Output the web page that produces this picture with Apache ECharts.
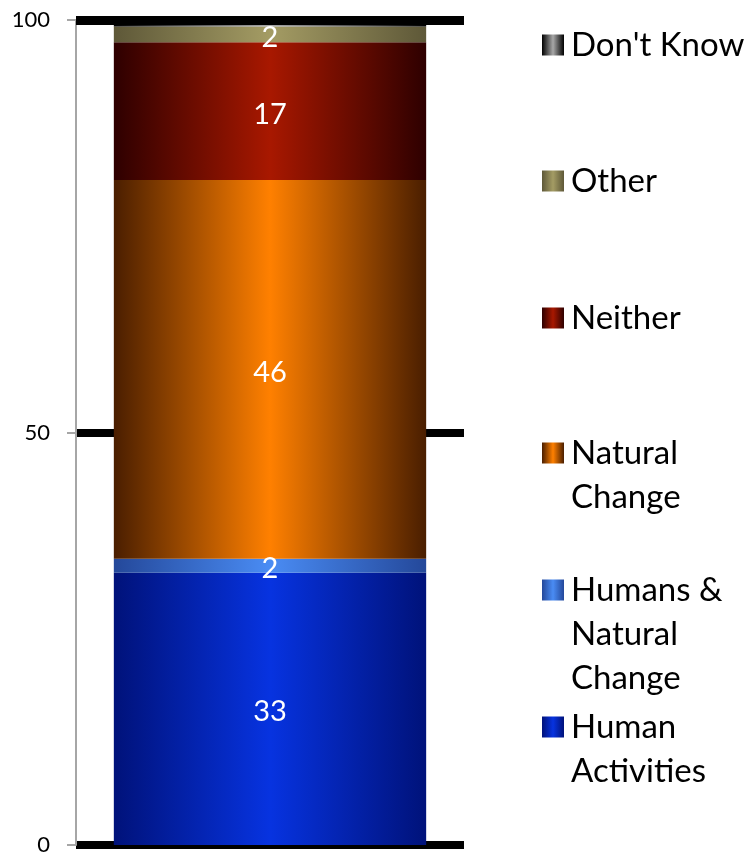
<!DOCTYPE html>
<html>
<head>
<meta charset="utf-8">
<script src="https://cdn.jsdelivr.net/npm/echarts@6/dist/echarts.min.js"></script>
<style>
html,body{margin:0;padding:0;background:#fff;}
#chart{width:754px;height:856px;}
</style>
</head>
<body>
<div id="chart"></div>
<script>
// Data (bottom to top)
var categories = [''];
var seriesNames = ['Human Activities', 'Humans & Natural Change', 'Natural Change', 'Neither', 'Other', "Don't Know"];
var legendLabels = ['Human\nActivities', 'Humans &\nNatural\nChange', 'Natural\nChange', 'Neither', 'Other', "Don't Know"];
var seriesValues = [33, 1.7, 45.9, 16.7, 1.9, 0.9];
var yTicks = [0, 50, 100];

var edgeColors = ['#00127a', '#24489a', '#4a1e00', '#2e0000', '#5e5838', '#000000'];
var centerColors = ['#0733e0', '#4a8cf4', '#ff8000', '#a81800', '#a49c64', '#a8a8a8'];

function grad(i) {
  return new echarts.graphic.LinearGradient(0, 0, 1, 0, [
    {offset: 0, color: edgeColors[i]},
    {offset: 0.5, color: centerColors[i]},
    {offset: 1, color: edgeColors[i]}
  ]);
}

var FONT = 'Lato';
var LH = 44;
var legendFirstLineY = [727, 590, 453, 318, 181, 45];

var series = seriesNames.map(function (name, i) {
  var s = {
    name: name,
    type: 'bar',
    stack: 'total',
    barWidth: '80.5%',
    data: [seriesValues[i]],
    itemStyle: {color: grad(i)},
    label: {
      show: i !== 5,
      position: 'inside',
      offset: [0, 3],
      color: '#fff',
      fontFamily: FONT,
      fontSize: 29,
      formatter: function (p) { return Math.round(p.value); }
    }
  };
  if (i === 5) {
    s.markLine = {
      symbol: 'none',
      silent: true,
      label: {show: false},
      lineStyle: {color: '#000', width: 9, type: 'solid'},
      data: [{yAxis: 100}]
    };
  }
  return s;
});

var legends = seriesNames.map(function (name, i) {
  var n = legendLabels[i].split('\n').length;
  var pad = new Array(n).join('\n');
  return {
    data: [name],
    left: 542,
    top: legendFirstLineY[i] - (2 * n - 1) * LH / 2,
    itemWidth: 22,
    itemHeight: 21,
    itemGap: 0,
    padding: 0,
    icon: 'rect',
    formatter: function () { return pad + legendLabels[i]; },
    textStyle: {
      fontFamily: FONT,
      fontSize: 33,
      color: '#000',
      lineHeight: LH,
      padding: [0, 0, 0, 2]
    }
  };
});

var chart = echarts.init(document.getElementById('chart'));
chart.setOption({
  animation: false,
  backgroundColor: '#fff',
  legend: legends,
  grid: {left: 76, right: 290, top: 20, bottom: 10, containLabel: false},
  xAxis: {
    type: 'category',
    data: categories,
    axisLine: {show: false},
    axisTick: {show: false},
    axisLabel: {show: false}
  },
  yAxis: {
    type: 'value',
    min: yTicks[0],
    max: yTicks[yTicks.length - 1],
    interval: 50,
    axisLine: {show: true, lineStyle: {color: '#a6a6a6', width: 2}},
    axisTick: {show: true, length: 9, lineStyle: {color: '#a6a6a6', width: 2}},
    axisLabel: {color: '#000', fontFamily: FONT, fontSize: 22, margin: 26},
    splitLine: {show: true, lineStyle: {color: '#000', width: 8}}
  },
  series: series
});
</script>
</body>
</html>
